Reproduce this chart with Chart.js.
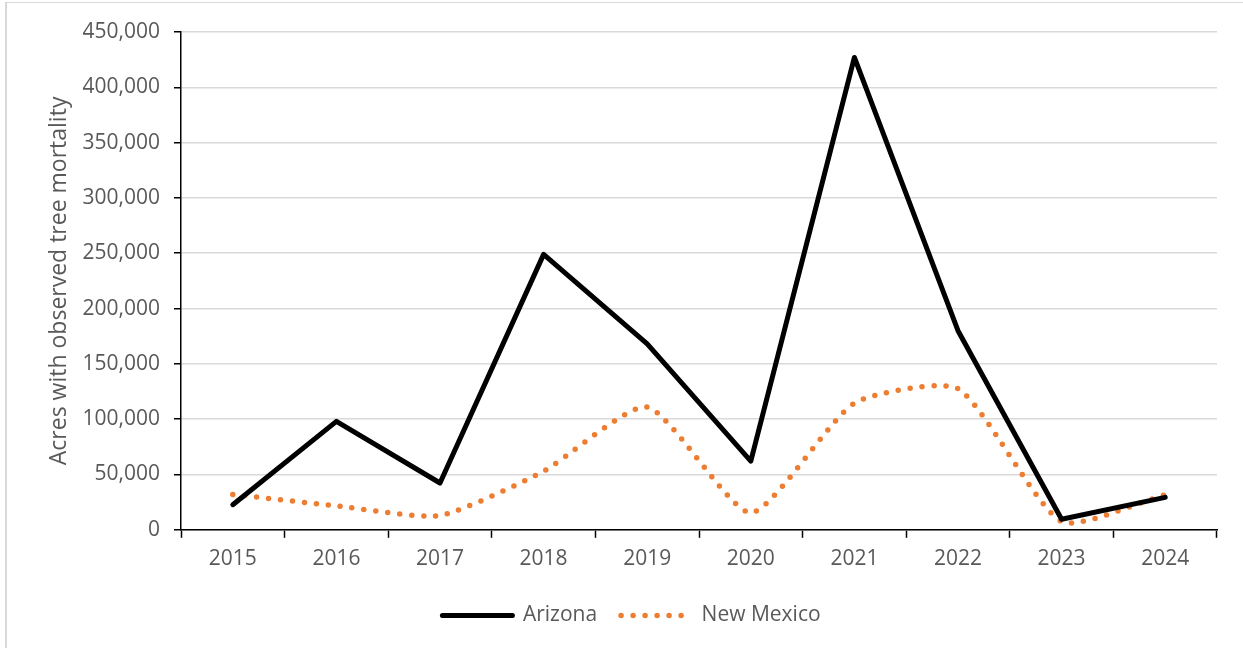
<!DOCTYPE html>
<html>
<head>
<meta charset="utf-8">
<script src="https://cdn.jsdelivr.net/npm/chart.js@4.4.1/dist/chart.umd.min.js"></script>
<style>
  html, body { margin: 0; padding: 0; background: #fff; }
  #wrap { position: relative; width: 1243px; height: 648px; }
  #frame { position: absolute; left: 5px; top: 2px; right: 0; bottom: 0;
           border-left: 2px solid #d9d9d9; border-top: 1px solid #d9d9d9; pointer-events: none; }
  canvas { position: absolute; left: 0; top: 0; }
</style>
</head>
<body>
<div id="wrap">
  <canvas id="c" width="1243" height="648"></canvas>
  <div id="frame"></div>
</div>
<script>
const years = ['2015','2016','2017','2018','2019','2020','2021','2022','2023','2024'];
const arizona = [22700, 98000, 42300, 249000, 168000, 62000, 427000, 180000, 9500, 29300];
const newMexico = [32000, 21600, 13000, 53000, 111000, 15500, 114500, 127500, 7400, 31700];
const yTicks = [0, 50000, 100000, 150000, 200000, 250000, 300000, 350000, 400000, 450000];
const yTitle = 'Acres with observed tree mortality';

const FONT = 'Open Sans';
const GREY = '#595959';

new Chart(document.getElementById('c'), {
  type: 'line',
  data: {
    labels: years,
    datasets: [
      {
        label: 'Arizona',
        data: arizona,
        borderColor: '#000000',
        backgroundColor: '#000000',
        borderWidth: 5,
        borderCapStyle: 'round',
        borderJoinStyle: 'round',
        pointRadius: 0,
        tension: 0,
        fill: false
      },
      {
        label: 'New Mexico',
        data: newMexico,
        borderColor: '#ED7D31',
        backgroundColor: '#ED7D31',
        borderWidth: 5.5,
        borderCapStyle: 'round',
        borderDash: [0, 12],
        pointRadius: 0,
        tension: 0.2,
        fill: false
      }
    ]
  },
  options: {
    responsive: false,
    animation: false,
    devicePixelRatio: 1,
    layout: { padding: { left: 46, right: 26, top: 32, bottom: 12 } },
    plugins: {
      tooltip: { enabled: false },
      legend: {
        position: 'bottom',
        labels: {
          usePointStyle: true,
          pointStyle: 'line',
          pointStyleWidth: 70,
          padding: 24,
          color: GREY,
          font: { family: FONT, size: 21 },
          generateLabels: (chart) => chart.data.datasets.map((ds, i) => ({
            text: ds.label,
            fillStyle: ds.borderColor,
            strokeStyle: ds.borderColor,
            lineWidth: ds.borderWidth,
            lineDash: ds.borderDash || [],
            lineCap: ds.borderCapStyle,
            pointStyle: 'line',
            fontColor: GREY,
            hidden: false,
            datasetIndex: i
          }))
        }
      }
    },
    scales: {
      x: {
        offset: true,
        grid: { offset: true, drawOnChartArea: false, drawTicks: true, tickLength: 8, tickColor: '#000', tickWidth: 1.5 },
        border: { color: '#000', width: 1.5 },
        ticks: { color: GREY, font: { family: FONT, size: 21 }, padding: 9 }
      },
      y: {
        min: 0,
        max: 450000,
        afterBuildTicks: (s) => { s.ticks = yTicks.map(v => ({ value: v })); },
        afterFit: (s) => { s.width = 135; },
        grid: { color: '#d9d9d9', lineWidth: 1.5, tickLength: 7, tickColor: '#000', tickWidth: 1.5, drawTicks: true },
        border: { color: '#000', width: 1.5 },
        ticks: {
          color: GREY,
          font: { family: FONT, size: 21 },
          padding: 14,
          callback: (v) => Number(v).toLocaleString('en-US')
        },
        title: {
          display: true,
          text: yTitle,
          color: GREY,
          font: { family: FONT, size: 23 },
          padding: { top: 0, bottom: 0 }
        }
      }
    }
  }
});
</script>
</body>
</html>
